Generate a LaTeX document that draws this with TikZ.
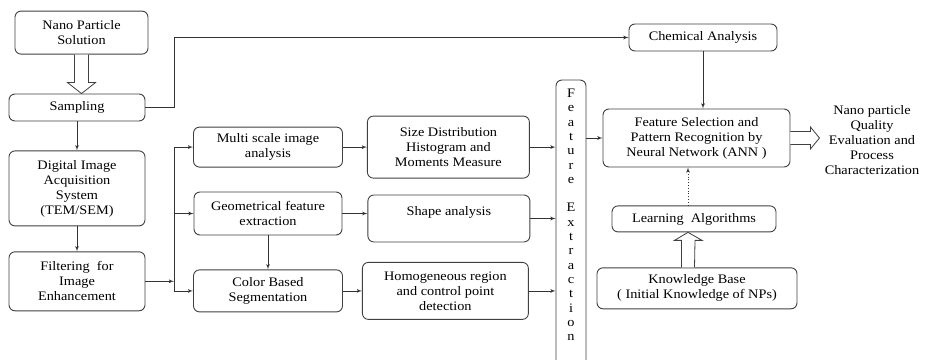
\documentclass[tikz,border=0pt]{standalone}
\usepackage{fontspec}
\setmainfont{Liberation Serif}[FakeStretch=1.1]
\usetikzlibrary{arrows, positioning, calc}

\begin{document}
\begin{tikzpicture}
        [x=1pt, y=1pt, ->, >=latex', line width=0.8pt, draw=black!80, font=\fontsize{13}{15}\selectfont,
        block/.style={rectangle, rounded corners=6pt, draw=black!75, line width=0.9pt, align=center, inner sep=0pt, fill=white},
        fatarrow/.style={-, draw=black!75, line width=0.8pt, fill=white, line join=miter}]
        \useasboundingbox (0,0) rectangle (925,-359);

        \node[block, minimum width=136pt, minimum height=27pt]  (samp)  at (77,-107.5) {Sampling};
        \node[block, minimum width=133pt, minimum height=43pt]  (nps)   [above=39pt of samp, xshift=4.5pt] {Nano Particle\\Solution};
        \node[block, minimum width=136pt, minimum height=75pt]  (dia)   [below=29pt of samp] {Digital Image\\Acquisition\\System\\(TEM/SEM)};
        \node[block, minimum width=136pt, minimum height=59pt]  (filt)  [below=25pt of dia] {Filtering~ for\\Image\\Enhancement};

        \node[block, minimum width=148pt, minimum height=43pt]  (geom)  at (268,-213.5) {Geometrical feature\\extraction};
        \node[block, minimum width=149pt, minimum height=40pt]  (multi) [above=24pt of geom] {Multi scale image\\analysis};
        \node[block, minimum width=149pt, minimum height=42pt]  (color) [below=34pt of geom] {Color Based\\Segmentation};

        \node[block, minimum width=162pt, minimum height=62pt]  (size)  [right=24pt of multi] {Size Distribution\\Histogram and\\Moments Measure};
        \node[block, minimum width=162pt, minimum height=47pt]  (shape) [right=25pt of geom, yshift=-5pt] {Shape analysis\\\phantom{x}};
        \node[block, minimum width=166pt, minimum height=57pt]  (homog) [right=19pt of color] {Homogeneous region\\and control point\\detection};

        \node[block, minimum width=30pt, minimum height=294pt, font=\fontsize{13}{14.3}\selectfont]  (fext)  at (571,-227)
        {F\\e\\a\\t\\u\\r\\e\\[14.3pt]E\\x\\t\\r\\a\\c\\t\\i\\o\\n\\[10pt]};

        \node[block, minimum width=148pt, minimum height=27pt]  (chem)  at (703,-37.5) {Chemical Analysis};
        \node[block, minimum width=187pt, minimum height=58pt]  (fs)    at (696.5,-138) {Feature Selection and\\Pattern Recognition by\\Neural Network (ANN~)};
        \node[block, minimum width=164pt, minimum height=26pt]  (learn) [below=38pt of fs, xshift=-2.5pt] {Learning~~Algorithms};
        \node[block, minimum width=200pt, minimum height=41pt]  (know)  [below=35pt of learn, xshift=3pt] {Knowledge Base\\( Initial Knowledge of NPs)};

        \node[align=center, inner sep=0pt]  (out)  at (872,-140) {Nano particle\\Quality\\Evaluation and\\Process\\Characterization};

        \coordinate (fork) at (174,0);
        \coordinate (upx)  at ($(learn.south)+(-6,0)$);

        \draw[fatarrow] ($(nps.south)+(-7,0)$) -- ($(nps.south |- samp.north)+(-7,11)$) -- ++(-7,0) -- (nps.south |- samp.north)
              -- ++(14,11) -- ++(-7,0) -- ($(nps.south)+(7,0)$);
        \draw (samp) -- (dia);
        \draw (dia) -- (filt);
        \draw (filt) -- (fork |- filt.east);
        \draw[-] (fork |- multi) -- (fork |- color);
        \draw (fork |- multi) -- (multi);
        \draw (fork |- geom) -- (geom);
        \draw (fork |- color) -- (color);
        \draw (samp) -- (fork |- samp) |- (chem);
        \draw (geom) -- (color);
        \draw (multi) -- (size);
        \draw (geom) -- (geom -| shape.west);
        \draw (color) -- (homog);
        \draw (size) -- (size -| fext.west);
        \draw (shape) -- (shape -| fext.west);
        \draw (homog) -- (homog -| fext.west);
        \draw (fext.east |- fs) -- (fs);
        \draw (chem) -- (chem |- fs.north);
        \draw[dotted] (upx |- learn.north) -- (upx |- fs.south);
        \draw[fatarrow] ($(upx |- know.north)+(-6.5,0)$) -- ($(upx)+(-6.5,-8)$) -- ++(-7,0) -- (upx)
              -- ++(14,-8) -- ++(-7,0) -- ($(upx |- know.north)+(6.5,0)$);
        \draw[fatarrow] ($(fs.east)+(0,6.5)$) -- ++(20,0) -- ++(0,4.5) -- ($(fs.east)+(29,0)$)
              -- ++(-9,-11) -- ++(0,4.5) -- ($(fs.east)+(0,-6.5)$);
\end{tikzpicture}
\end{document}
